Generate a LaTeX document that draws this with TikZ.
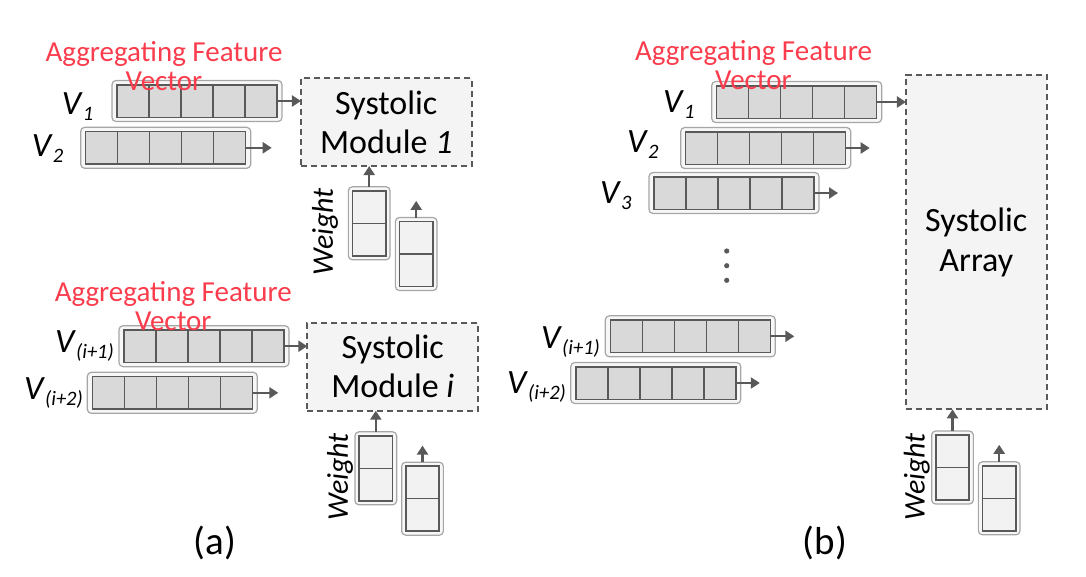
\documentclass[tikz,border=0pt]{standalone}
\usepackage{fontspec}
\setmainfont{Carlito}
\usetikzlibrary{arrows.meta,calc}
\definecolor{dk}{HTML}{595959}
\definecolor{cellfill}{HTML}{D9D9D9}
\definecolor{outerline}{HTML}{A6A6A6}
\definecolor{outerfill}{HTML}{F7F7F7}
\definecolor{wfill}{HTML}{F2F2F2}
\definecolor{boxfill}{HTML}{F4F4F4}
\definecolor{redtext}{HTML}{FA3C4C}
\newcommand\featvec[3]{%
  \node[vouter] (#1) at (#2,#3) {};
  \node[vinner] (#1-in) at (#2,#3) {};
  \foreach \k in {1,...,4}{\draw[cellline] ($(#1-in.north west)+(\k*32,0)$) -- ($(#1-in.south west)+(\k*32,0)$);}
}
\newcommand\wvec[3]{%
  \node[wouter] (#1) at (#2,#3) {};
  \node[winner] (#1-in) at (#2,#3) {};
  \draw[cellline] (#1-in.west) -- (#1-in.east);
}
\newcommand\Vsub[1]{\textit{V}\raisebox{-6pt}{\fontsize{20.5}{20.5}\selectfont\itshape #1}}
\begin{document}
\begin{tikzpicture}[x=1pt,y=-1pt,
  vouter/.style={draw=outerline, fill=outerfill, rounded corners=4pt, line width=1.2pt, minimum width=170pt, minimum height=41pt, inner sep=0pt, outer sep=0pt},
  vinner/.style={draw=dk, fill=cellfill, line width=1.5pt, minimum width=160pt, minimum height=32.5pt, inner sep=0pt, outer sep=0pt},
  wouter/.style={draw=outerline, fill=outerfill, rounded corners=4pt, line width=1.2pt, minimum width=41.7pt, minimum height=73pt, inner sep=0pt, outer sep=0pt},
  winner/.style={draw=dk, fill=wfill, line width=1.5pt, minimum width=33.4pt, minimum height=65pt, inner sep=0pt, outer sep=0pt},
  cellline/.style={draw=dk, line width=1.4pt},
  dbox/.style={draw=dk, dash pattern=on 6pt off 4pt, fill=boxfill, line width=1.8pt, inner sep=0pt, outer sep=0pt, align=center, font=\fontsize{34}{39}\selectfont},
  arr/.style={draw=dk, line width=2.3pt, -{Triangle[length=9pt,width=11pt]}},
  vlab/.style={font=\fontsize{34}{36}\selectfont, inner sep=0pt, anchor=base west},
  redlab/.style={text=redtext, font=\fontsize{29}{28.5}\selectfont, align=center, inner sep=0pt},
  wlab/.style={font=\fontsize{30}{30}\selectfont\itshape, rotate=90, inner sep=0pt},
  caplab/.style={font=\fontsize{39}{39}\selectfont, inner sep=0pt}
]
\useasboundingbox (0,0) rectangle (1086,576);

% ---------- (a) top ----------
\node[dbox, minimum width=170.7pt, minimum height=87.7pt] (SM1) at (386.3,122.2) {Systolic\\Module \textit{1}};
\featvec{V1a}{197}{101}
\featvec{V2a}{165.7}{147.8}
\node[vlab] (lV1a) at (61.7,114) {\Vsub{1}};
\node[vlab] (lV2a) at (31.7,156) {\Vsub{2}};
\draw[arr] (V1a-in.east) -- (V1a-in.east -| SM1.west);
\coordinate (V2a-end) at ($(V2a-in.east)+(26,0)$);
\draw[arr] (V2a-in.east) -- (V2a-end);
\wvec{W1a}{369.2}{223.3}
\wvec{W2a}{416.2}{254}
\draw[arr] (W1a.north) -- (W1a.north |- SM1.south);
\coordinate (W2a-end) at ($(W2a.north)+(0,-16.6)$);
\draw[arr] (W2a.north) -- (W2a-end);
\node[wlab] (lWa) at (325,231.7) {Weight};
\node[redlab] (RLa) at (164,66) {Aggregating Feature\\Vector};

% ---------- (a) bottom ----------
\node[dbox, minimum width=171pt, minimum height=88pt] (SMi) at (392.8,366.7) {Systolic\\Module \textit{i}};
\featvec{V3a}{204}{346.2}
\featvec{V4a}{172.3}{392.8}
\node[vlab] (lV3a) at (55,352) {\Vsub{(i+1)}};
\node[vlab] (lV4a) at (24,399) {\Vsub{(i+2)}};
\draw[arr] (V3a-in.east) -- (V3a-in.east -| SMi.west);
\coordinate (V4a-end) at ($(V4a-in.east)+(26,0)$);
\draw[arr] (V4a-in.east) -- (V4a-end);
\wvec{W3a}{375.8}{468.3}
\wvec{W4a}{422.5}{498.7}
\draw[arr] (W3a.north) -- (W3a.north |- SMi.south);
\coordinate (W4a-end) at ($(W4a.north)+(0,-16.6)$);
\draw[arr] (W4a.north) -- (W4a-end);
\node[wlab] (lWa2) at (340,476.7) {Weight};
\node[redlab] (RLa2) at (173.3,306) {Aggregating Feature\\Vector};
\node[caplab] (capa) at (215,543) {(a)};

% ---------- (b) ----------
\node[dbox, minimum width=140.7pt, minimum height=334.3pt, font=\fontsize{34}{40.5}\selectfont] (SA) at (976.3,242.2) {Systolic\\Array};
\featvec{V1b}{796.7}{102}
\featvec{V2b}{765.7}{148}
\featvec{V3b}{734}{193}
\featvec{V4b}{690.3}{336.3}
\featvec{V5b}{655.8}{383}
\node[vlab] (lV1b) at (663,112) {\Vsub{1}};
\node[vlab] (lV2b) at (627,152) {\Vsub{2}};
\node[vlab] (lV3b) at (600,203) {\Vsub{3}};
\node[vlab] (lV4b) at (541,348) {\Vsub{(i+1)}};
\node[vlab] (lV5b) at (507,393) {\Vsub{(i+2)}};
\draw[arr] (V1b-in.east) -- (V1b-in.east -| SA.west);
\foreach \n in {V2b,V3b,V4b,V5b}{
  \coordinate (\n-end) at ($(\n-in.east)+(24,0)$);
  \draw[arr] (\n-in.east) -- (\n-end);
}
\fill[dk] (726.7,251) circle (2.6pt) (726.7,265.7) circle (2.6pt) (726.7,280.3) circle (2.6pt);
\wvec{W1b}{952.5}{467.5}
\wvec{W2b}{999.2}{498.3}
\draw[arr] (W1b.north) -- (W1b.north |- SA.south);
\coordinate (W2b-end) at ($(W2b.north)+(0,-17)$);
\draw[arr] (W2b.north) -- (W2b-end);
\node[wlab] (lWb) at (916.7,476.7) {Weight};
\node[redlab] (RLb) at (753.5,65) {Aggregating Feature\\Vector};
\node[caplab] (capb) at (825,543) {(b)};
\end{tikzpicture}
\end{document}
